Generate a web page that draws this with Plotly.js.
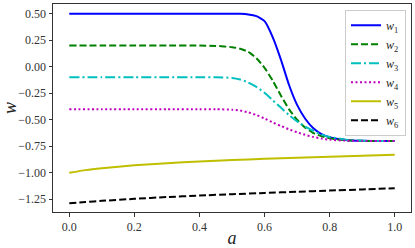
<!DOCTYPE html>
<html>
<head>
<meta charset="utf-8">
<script src="https://cdn.plot.ly/plotly-3.0.1.min.js"></script>
<style>html,body{margin:0;padding:0;background:#fff;}#chart{width:415px;height:248px;}</style>
</head>
<body>
<div id="chart"></div>
<script>
// shared grid for w1..w4
const a = [0, 0.1, 0.2, 0.3, 0.4, 0.45, 0.5, 0.525, 0.55, 0.575, 0.6, 0.625, 0.65, 0.675, 0.7, 0.725, 0.75, 0.775, 0.8, 0.85, 0.9, 0.95, 1.0];
const w1 = [0.5, 0.5, 0.5, 0.5, 0.5, 0.5, 0.5, 0.499, 0.494, 0.477, 0.43, 0.28, 0.07, -0.17, -0.36, -0.49, -0.58, -0.635, -0.665, -0.69, -0.698, -0.7, -0.7];
const w2 = [0.2, 0.2, 0.2, 0.2, 0.2, 0.197, 0.185, 0.17, 0.14, 0.08, -0.01, -0.13, -0.27, -0.4, -0.5, -0.575, -0.625, -0.655, -0.675, -0.693, -0.699, -0.7, -0.7];
const w3 = [-0.1, -0.1, -0.1, -0.1, -0.1, -0.1, -0.105, -0.12, -0.148, -0.19, -0.245, -0.315, -0.385, -0.455, -0.515, -0.565, -0.605, -0.64, -0.662, -0.688, -0.698, -0.7, -0.7];
const w4 = [-0.4, -0.4, -0.4, -0.4, -0.4, -0.4, -0.405, -0.412, -0.43, -0.455, -0.488, -0.525, -0.558, -0.59, -0.618, -0.642, -0.662, -0.677, -0.688, -0.697, -0.7, -0.7, -0.7];
// grid for w5, w6
const a56 = [0, 0.05, 0.1, 0.2, 0.3, 0.4, 0.5, 0.6, 0.7, 0.8, 0.9, 1.0];
const w5 = [-1.0, -0.975, -0.957, -0.93, -0.91, -0.893, -0.88, -0.868, -0.858, -0.849, -0.84, -0.83];
const w6 = [-1.288, -1.275, -1.265, -1.246, -1.229, -1.215, -1.202, -1.19, -1.179, -1.168, -1.157, -1.146];
const names = ['<i>w</i><sub>1</sub>', '<i>w</i><sub>2</sub>', '<i>w</i><sub>3</sub>', '<i>w</i><sub>4</sub>', '<i>w</i><sub>5</sub>', '<i>w</i><sub>6</sub>'];
const xTicks = [0, 0.2, 0.4, 0.6, 0.8, 1.0];
const xTickText = ['0.0', '0.2', '0.4', '0.6', '0.8', '1.0'];
const yTicks = [0.5, 0.25, 0, -0.25, -0.5, -0.75, -1.0, -1.25];
const yTickText = ['0.50', '0.25', '0.00', '\u22120.25', '\u22120.50', '\u22120.75', '\u22121.00', '\u22121.25'];

const styles = [
  {color: '#0000ff', dash: 'solid'},
  {color: '#008000', dash: '7px,3px'},
  {color: '#00bfbf', dash: '10px,3px,2px,3px'},
  {color: '#bf00bf', dash: '2px,2.5px'},
  {color: '#bfbf00', dash: 'solid'},
  {color: '#000000', dash: '7px,3px'}
];
const xs = [a, a, a, a, a56, a56];
const ys = [w1, w2, w3, w4, w5, w6];
const traces = ys.map((y, i) => ({
  x: xs[i], y: y, name: names[i], type: 'scatter', mode: 'lines',
  line: {color: styles[i].color, dash: styles[i].dash, width: 2, shape: 'spline', smoothing: 0.5}
}));

const fam = 'Liberation Serif, serif';
const layout = {
  width: 415, height: 248,
  margin: {l: 53, r: 4, t: 4, b: 36},
  paper_bgcolor: '#fff', plot_bgcolor: '#fff',
  font: {family: fam, color: '#333', size: 12},
  showlegend: true,
  legend: {
    x: 0.986, y: 0.972, xanchor: 'right', yanchor: 'top',
    bgcolor: 'rgba(255,255,255,0.9)', bordercolor: '#ccc', borderwidth: 1,
    font: {family: fam, size: 12, color: '#222'},
    itemwidth: 30, tracegroupgap: 0
  },
  xaxis: {
    range: [-0.05, 1.05], tickvals: xTicks, ticktext: xTickText,
    showgrid: false, zeroline: false, showline: true, mirror: true,
    linecolor: '#333', linewidth: 1, ticks: 'outside', ticklen: 3.5, tickcolor: '#333',
    tickfont: {family: fam, size: 12, color: '#333'},
    title: {text: '<i>a</i>', font: {family: fam, size: 18, color: '#222'}, standoff: 4}
  },
  yaxis: {
    range: [-1.37, 0.592], tickvals: yTicks, ticktext: yTickText,
    showgrid: false, zeroline: false, showline: true, mirror: true,
    linecolor: '#333', linewidth: 1, ticks: 'outside', ticklen: 3.5, tickcolor: '#333',
    tickfont: {family: fam, size: 12, color: '#333'},
    title: {text: '<i>w</i>', font: {family: fam, size: 18, color: '#222'}, standoff: 6}
  }
};
Plotly.newPlot('chart', traces, layout, {staticPlot: true, displayModeBar: false});
</script>
</body>
</html>
